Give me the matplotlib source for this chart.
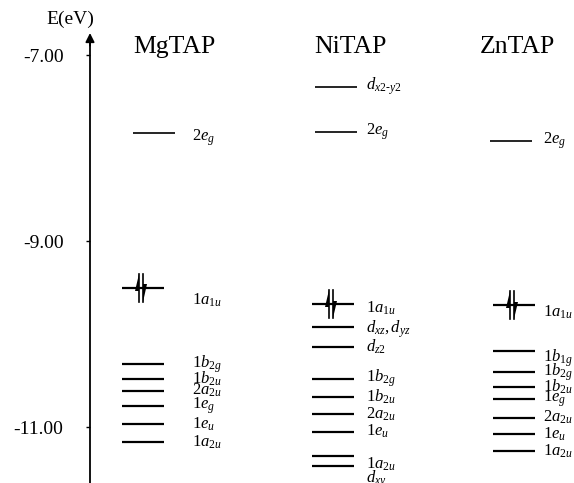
import matplotlib
matplotlib.use("Agg")
import matplotlib.pyplot as plt

plt.rcParams['font.family'] = ['Liberation Serif', 'DejaVu Serif']
plt.rcParams['mathtext.fontset'] = 'custom'
plt.rcParams['mathtext.rm'] = 'Liberation Serif'
plt.rcParams['mathtext.it'] = 'Liberation Serif:italic'

# energies in eV
molecules = ["MgTAP", "NiTAP", "ZnTAP"]

mg_levels = [-7.84, -9.50, -10.32, -10.48, -10.61, -10.77, -10.97, -11.16]
mg_labels = [r'$\mathit{2e}_{\mathit{g}}$', r'$\mathit{1a}_{\mathit{1u}}$',
             r'$\mathit{1b}_{\mathit{2g}}$', r'$\mathit{1b}_{\mathit{2u}}$',
             r'$\mathit{2a}_{\mathit{2u}}$', r'$\mathit{1e}_{\mathit{g}}$',
             r'$\mathit{1e}_{\mathit{u}}$', r'$\mathit{1a}_{\mathit{2u}}$']

ni_levels = [-7.34, -7.83, -9.68, -9.92, -10.14, -10.48, -10.68, -10.86,
             -11.05, -11.31, -11.42]
ni_labels = [r'$\mathit{d}_{\mathit{x2}\text{-}\mathit{y2}}$',
             r'$\mathit{2e}_{\mathit{g}}$', r'$\mathit{1a}_{\mathit{1u}}$',
             r'$\mathit{d}_{\mathit{xz}},\mathit{d}_{\mathit{yz}}$',
             r'$\mathit{d}_{\mathit{z2}}$',
             r'$\mathit{1b}_{\mathit{2g}}$', r'$\mathit{1b}_{\mathit{2u}}$',
             r'$\mathit{2a}_{\mathit{2u}}$', r'$\mathit{1e}_{\mathit{u}}$',
             r'$\mathit{1a}_{\mathit{2u}}$', r'$\mathit{d}_{\mathit{xy}}$']

zn_levels = [-7.92, -9.69, -10.18, -10.41, -10.57, -10.70, -10.90, -11.08, -11.26]
zn_labels = [r'$\mathit{2e}_{\mathit{g}}$', r'$\mathit{1a}_{\mathit{1u}}$',
             r'$\mathit{1b}_{\mathit{1g}}$', r'$\mathit{1b}_{\mathit{2g}}$',
             r'$\mathit{1b}_{\mathit{2u}}$', r'$\mathit{1e}_{\mathit{g}}$',
             r'$\mathit{2a}_{\mathit{2u}}$', r'$\mathit{1e}_{\mathit{u}}$',
             r'$\mathit{1a}_{\mathit{2u}}$']

# index of the occupied HOMO in each list
homo = [1, 2, 1]

y_ticks = [-7, -9, -11]

# layout (pixels across, eV up)
centers = [143, 333, 514]
top_shift = [11, 3, -3]   # x shift of the levels above -9 eV
label_x = [192, 366, 543]
title_x = [174, 350, 517]
half = 21
px = 93.0  # pixels per eV

fig = plt.figure(figsize=(5.74, 4.83), dpi=100)
ax = fig.add_axes([0, 0, 1, 1])
ax.set_xlim(0, 574)
ax.set_ylim(-7 - 428 / px, -7 + 55 / px)

# energy axis
for s in ['top', 'right', 'bottom']:
    ax.spines[s].set_visible(False)
ax.spines['left'].set_position(('data', 90))
ax.spines['left'].set_linewidth(1.3)
ax.spines['left'].set_bounds(-7 - 428 / px, -6.85)
ax.set_xticks([])
ax.set_yticks(y_ticks)
ax.set_yticklabels(["%.2f" % v for v in y_ticks], fontsize=14)
ax.tick_params(axis='y', direction='out', length=3, width=1, pad=16)
ax.annotate('', xy=(90, -7 + 22 / px), xytext=(90, -6.9),
            arrowprops=dict(arrowstyle='-|>', color='k', lw=1.3,
                            mutation_scale=13, shrinkA=0, shrinkB=0))
ax.text(70, -7 + 36 / px, 'E(eV)', fontsize=14, ha='center', va='center')

# extra label shifts in pixels (negative = down)
shift = {(0, 0): -5, (0, 1): -13, (1, 2): -4, (1, 3): -3, (1, 9): -8,
         (1, 10): -13, (2, 1): -7, (2, 2): -7}

all_levels = [mg_levels, ni_levels, zn_levels]
all_labels = [mg_labels, ni_labels, zn_labels]

for m, name in enumerate(molecules):
    ax.text(title_x[m], -7 + 8 / px, name, fontsize=18.5, ha='center', va='center')
    for i, (e, lab) in enumerate(zip(all_levels[m], all_labels[m])):
        c = centers[m]
        lw = 1.6
        if e > -9:
            c += top_shift[m]
            lw = 1.2
        ax.plot([c - half, c + half], [e, e], color='k', lw=lw,
                solid_capstyle='butt')
        ly = e + shift.get((m, i), 0) / px
        ax.text(label_x[m], ly, lab, fontsize=12, ha='left', va='center')
    # paired electrons on the HOMO
    c = centers[m]
    e = all_levels[m][homo[m]]
    h = 14 / px
    hl = 17 / px
    hx = c - 4
    ax.plot([hx, hx], [e - h, e + h], color='k', lw=1.2)
    ax.fill([hx, hx, hx - 4], [e + h, e + h - hl, e + h - hl], color='k', lw=0)
    hx = c
    ax.plot([hx, hx], [e - h, e + h], color='k', lw=1.2)
    ax.fill([hx, hx, hx + 4], [e - h, e - h + hl, e - h + hl], color='k', lw=0)

fig.savefig("out.png", dpi=100)
